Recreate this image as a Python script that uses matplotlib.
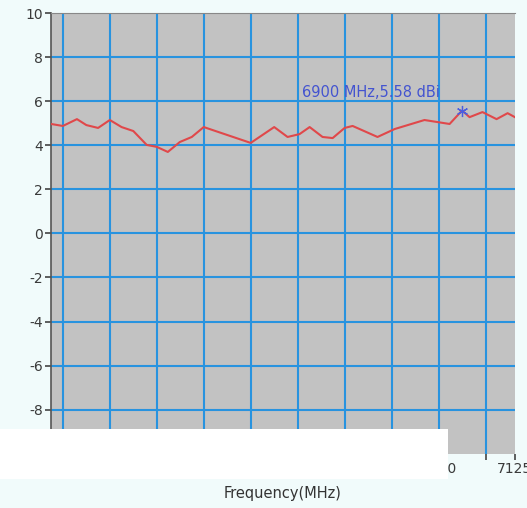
import matplotlib
matplotlib.use("Agg")
import matplotlib.pyplot as plt
from matplotlib.patches import Rectangle

# gain vs frequency
freq = [5150, 5200, 5260, 5300, 5350, 5400, 5450, 5500, 5557, 5600, 5647, 5698,
        5749, 5800, 6000, 6100, 6157, 6208, 6251, 6306, 6349, 6400, 6434, 6540,
        6613, 6740, 6847, 6900, 6932, 6987, 7047, 7094, 7125]
gain = [4.97, 4.88, 5.19, 4.92, 4.79, 5.15, 4.83, 4.65, 4.02, 3.93, 3.70, 4.15,
        4.38, 4.83, 4.11, 4.83, 4.38, 4.51, 4.83, 4.38, 4.33, 4.79, 4.88, 4.38,
        4.74, 5.15, 4.97, 5.58, 5.28, 5.51, 5.19, 5.46, 5.28]

mark_f = 6900
mark_g = 5.58

xticks = [5200, 5400, 5600, 5800, 6000, 6200, 6400, 6600, 6800, 7000, 7125]
xlabels = ["5200", "5400", "5600", "5800", "6000", "6200", "6400", "6600", "6800", "", "7125"]
yticks = [-10, -8, -6, -4, -2, 0, 2, 4, 6, 8, 10]

bg = "#f1fbfb"
fig = plt.figure(figsize=(5.27, 5.08), dpi=100, facecolor=bg)
ax = fig.add_axes([0.097, 0.107, 0.880, 0.867])
ax.set_facecolor("#c2c2c2")

ax.plot(freq, gain, color="#e0484a", lw=1.5, zorder=3)
ax.plot([mark_f], [mark_g], marker=(6, 2, 0), ms=8, mew=0.9, color="#4a5ee0", zorder=4)
ax.text(6804, 6.42, "6900 MHz,5.58 dBi", color="#4454d0", fontsize=10.5,
        ha="right", va="center", zorder=5)

ax.set_xlim(5150, 7125)
ax.set_ylim(-10, 10)
ax.set_xticks(xticks)
ax.set_xticklabels(xlabels)
ax.set_yticks(yticks)
ax.set_yticklabels([str(v) for v in yticks])

for v in xticks[:-1]:
    ax.axvline(v, color="#2893df", lw=1.5, zorder=2)
for v in yticks[1:-1]:
    ax.axhline(v, color="#2893df", lw=1.5, zorder=2)

ax.tick_params(axis="both", direction="out", length=4, width=1.2, color="#444444",
               labelsize=10, labelcolor="#3a3a3a", pad=2)
for s in ["right", "bottom"]:
    ax.spines[s].set_visible(False)
ax.spines["left"].set_color("#555555")
ax.spines["top"].set_color("#888888")
ax.spines["left"].set_linewidth(1.2)

ax.set_xlabel("Frequency(MHz)", fontsize=10.5, color="#333333", labelpad=7)

# white patch covering the lower left labels, as in the screenshot
fig.patches.append(Rectangle((0, 1 - 479 / 508), 448 / 527, 50 / 508,
                             transform=fig.transFigure, facecolor="white",
                             edgecolor="none", zorder=10))

fig.savefig("out.png", dpi=100, facecolor=bg)
